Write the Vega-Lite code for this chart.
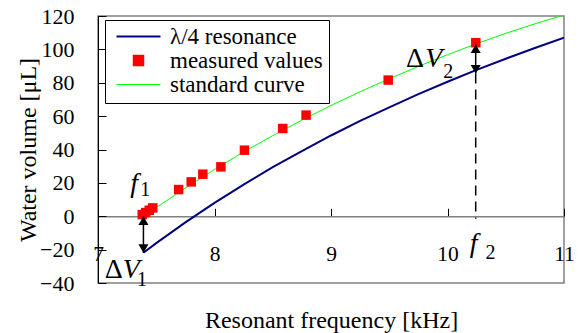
{
  "$schema": "https://vega.github.io/schema/vega-lite/v6.json",
  "width": 466,
  "height": 267,
  "autosize": {"type": "none"},
  "padding": {"left": 98, "top": 16, "right": 15, "bottom": 50},
  "config": {
    "font": "Liberation Serif",
    "view": {"stroke": "#808080", "strokeWidth": 1.5},
    "axis": {
      "grid": false,
      "labelFont": "Liberation Serif",
      "titleFont": "Liberation Serif",
      "labelColor": "#000",
      "titleColor": "#000",
      "titleFontWeight": "normal",
      "labelFontSize": 21,
      "titleFontSize": 24,
      "labelFlush": false,
      "labelOverlap": false
    }
  },
  "datasets": {
    "curves": [
      {"f": 7.39, "V": -21.9, "series": "λ/4 resonance"},
      {"f": 7.5, "V": -16.1, "series": "λ/4 resonance"},
      {"f": 7.75, "V": -3.7, "series": "λ/4 resonance"},
      {"f": 8.0, "V": 8.0, "series": "λ/4 resonance"},
      {"f": 8.25, "V": 19.0, "series": "λ/4 resonance"},
      {"f": 8.5, "V": 29.4, "series": "λ/4 resonance"},
      {"f": 8.75, "V": 39.1, "series": "λ/4 resonance"},
      {"f": 9.0, "V": 48.4, "series": "λ/4 resonance"},
      {"f": 9.25, "V": 57.1, "series": "λ/4 resonance"},
      {"f": 9.5, "V": 65.3, "series": "λ/4 resonance"},
      {"f": 9.75, "V": 73.2, "series": "λ/4 resonance"},
      {"f": 10.0, "V": 80.6, "series": "λ/4 resonance"},
      {"f": 10.25, "V": 87.7, "series": "λ/4 resonance"},
      {"f": 10.5, "V": 94.4, "series": "λ/4 resonance"},
      {"f": 10.75, "V": 100.8, "series": "λ/4 resonance"},
      {"f": 11.0, "V": 107.0, "series": "λ/4 resonance"},
      {"f": 7.38, "V": 0.0, "series": "standard curve"},
      {"f": 7.5, "V": 5.2, "series": "standard curve"},
      {"f": 7.75, "V": 16.9, "series": "standard curve"},
      {"f": 8.0, "V": 28.0, "series": "standard curve"},
      {"f": 8.25, "V": 38.5, "series": "standard curve"},
      {"f": 8.5, "V": 48.3, "series": "standard curve"},
      {"f": 8.75, "V": 57.6, "series": "standard curve"},
      {"f": 9.0, "V": 66.4, "series": "standard curve"},
      {"f": 9.25, "V": 74.6, "series": "standard curve"},
      {"f": 9.5, "V": 82.4, "series": "standard curve"},
      {"f": 9.75, "V": 89.8, "series": "standard curve"},
      {"f": 10.0, "V": 96.8, "series": "standard curve"},
      {"f": 10.25, "V": 103.4, "series": "standard curve"},
      {"f": 10.5, "V": 109.6, "series": "standard curve"},
      {"f": 10.75, "V": 115.3, "series": "standard curve"},
      {"f": 11.0, "V": 120.6, "series": "standard curve"}
    ],
    "measured": [
      {"f": 7.38, "V": 1.0},
      {"f": 7.41, "V": 2.2},
      {"f": 7.44, "V": 3.6},
      {"f": 7.47, "V": 5.0},
      {"f": 7.692, "V": 16.0},
      {"f": 7.8, "V": 20.6},
      {"f": 7.9, "V": 25.2},
      {"f": 8.055, "V": 29.6},
      {"f": 8.257, "V": 39.6},
      {"f": 8.586, "V": 52.6},
      {"f": 8.786, "V": 60.6},
      {"f": 9.491, "V": 81.6},
      {"f": 10.243, "V": 104.0}
    ],
    "arrows": [
      {"f": 7.39, "V": 0, "V2": -22},
      {"f": 10.242, "V": 103, "V2": 85.5}
    ],
    "dashed": [
      {"f": 10.242, "V": 85.5, "V2": -1.5}
    ],
    "heads": [
      {"f": 7.39, "V": -2.6, "dir": "up"},
      {"f": 7.39, "V": -19.4, "dir": "down"},
      {"f": 10.242, "V": 100.4, "dir": "up"},
      {"f": 10.242, "V": 88.1, "dir": "down"}
    ],
    "upright": [
      {"f": 7.135, "V": -32.4, "t": "Δ"},
      {"f": 9.721, "V": 94.2, "t": "Δ"}
    ],
    "italic": [
      {"f": 7.311, "V": 19.2, "t": "f"},
      {"f": 7.285, "V": -32.4, "t": "V"},
      {"f": 9.882, "V": 94.2, "t": "V"},
      {"f": 10.225, "V": -16.8, "t": "f"}
    ],
    "subs": [
      {"f": 7.405, "V": 15.6, "t": "1"},
      {"f": 7.377, "V": -38.4, "t": "1"},
      {"f": 10.006, "V": 86.6, "t": "2"},
      {"f": 10.37, "V": -22.2, "t": "2"}
    ]
  },
  "encoding": {
    "x": {
      "field": "f", "type": "quantitative",
      "scale": {"domain": [7, 11], "nice": false, "zero": false},
      "axis": {
        "values": [7, 8, 9, 10, 11],
        "format": "d",
        "offset": -66.7,
        "tickSize": -8,
        "labelPadding": 35,
        "labelOverlap": false,
        "labelFlush": false,
        "labelFont": "Liberation Serif",
        "labelFontSize": 21.5,
        "domainColor": "#808080",
        "domainWidth": 1.5,
        "tickColor": "#000",
        "title": "Resonant frequency [kHz]",
        "titleX": 233,
        "titleY": 104,
        "titleBaseline": "middle",
        "titleAlign": "center"
      }
    },
    "y": {
      "field": "V", "type": "quantitative",
      "scale": {"domain": [-40, 120], "nice": false, "zero": false},
      "axis": {
        "values": [-40, -20, 0, 20, 40, 60, 80, 100, 120],
        "tickCount": 9,
        "format": "d",
        "tickSize": -8,
        "labelPadding": 32,
        "labelOverlap": false,
        "labelFlush": false,
        "labelFont": "Liberation Serif",
        "labelFontSize": 22,
        "domainColor": "#000",
        "tickColor": "#000",
        "title": "Water volume [μL]",
        "titleAngle": -90,
        "titleX": -70,
        "titleY": 133.5,
        "titleBaseline": "middle",
        "titleAlign": "center"
      }
    }
  },
  "layer": [
    {
      "data": {"name": "curves"},
      "mark": {"type": "line", "clip": true},
      "encoding": {
        "color": {
          "field": "series", "type": "nominal",
          "scale": {
            "domain": ["λ/4 resonance", "measured values", "standard curve"],
            "range": ["#000080", "#ff0000", "#00ff00"]
          },
          "legend": {
            "title": null,
            "orient": "none",
            "legendX": 7,
            "legendY": 4,
            "strokeColor": "#000",
            "fillColor": "#fff",
            "padding": 6,
            "symbolOffset": 16,
            "symbolSize": 1936,
            "symbolType": "stroke",
            "clipHeight": 21,
            "labelFont": "Liberation Serif",
            "labelFontSize": 23,
            "labelColor": "#000",
            "labelOffset": 20,
            "rowPadding": 0,
            "encode": {
              "symbols": {
                "update": {
                  "shape": {"signal": "datum.value === 'measured values' ? 'square' : 'stroke'"},
                  "size": {"signal": "datum.value === 'measured values' ? 90 : 1936"},
                  "fill": {"signal": "datum.value === 'measured values' ? '#ff0000' : 'transparent'"},
                  "stroke": {"signal": "datum.value === 'measured values' ? 'transparent' : (datum.value === 'standard curve' ? '#00ff00' : '#000080')"},
                  "strokeWidth": {"signal": "datum.value === 'standard curve' ? 1 : 2"},
                  "opacity": {"value": 1}
                }
              }
            }
          }
        },
        "strokeWidth": {"condition": {"test": "datum.series === 'standard curve'", "value": 1}, "value": 2}
      }
    },
    {
      "data": {"name": "measured"},
      "mark": {"type": "point", "shape": "square", "filled": true, "size": 90, "color": "#ff0000", "opacity": 1}
    },
    {
      "data": {"name": "arrows"},
      "mark": {"type": "rule", "color": "#000", "strokeWidth": 1.5},
      "encoding": {"y2": {"field": "V2"}}
    },
    {
      "data": {"name": "dashed"},
      "mark": {"type": "rule", "color": "#000", "strokeWidth": 1.5, "strokeDash": [10, 6]},
      "encoding": {"y2": {"field": "V2"}}
    },
    {
      "data": {"name": "heads"},
      "mark": {"type": "point", "filled": true, "size": 100, "color": "#000", "opacity": 1},
      "encoding": {
        "shape": {
          "field": "dir", "type": "nominal",
          "scale": {"domain": ["up", "down"], "range": ["triangle-up", "triangle-down"]},
          "legend": null
        }
      }
    },
    {
      "data": {"name": "upright"},
      "mark": {"type": "text", "font": "Liberation Serif", "fontSize": 28, "color": "#000", "align": "center", "baseline": "middle"},
      "encoding": {"text": {"field": "t"}}
    },
    {
      "data": {"name": "italic"},
      "mark": {"type": "text", "font": "Liberation Serif", "fontSize": 28, "fontStyle": "italic", "color": "#000", "align": "center", "baseline": "middle"},
      "encoding": {"text": {"field": "t"}}
    },
    {
      "data": {"name": "subs"},
      "mark": {"type": "text", "font": "Liberation Serif", "fontSize": 20, "color": "#000", "align": "center", "baseline": "middle"},
      "encoding": {"text": {"field": "t"}}
    }
  ]
}
